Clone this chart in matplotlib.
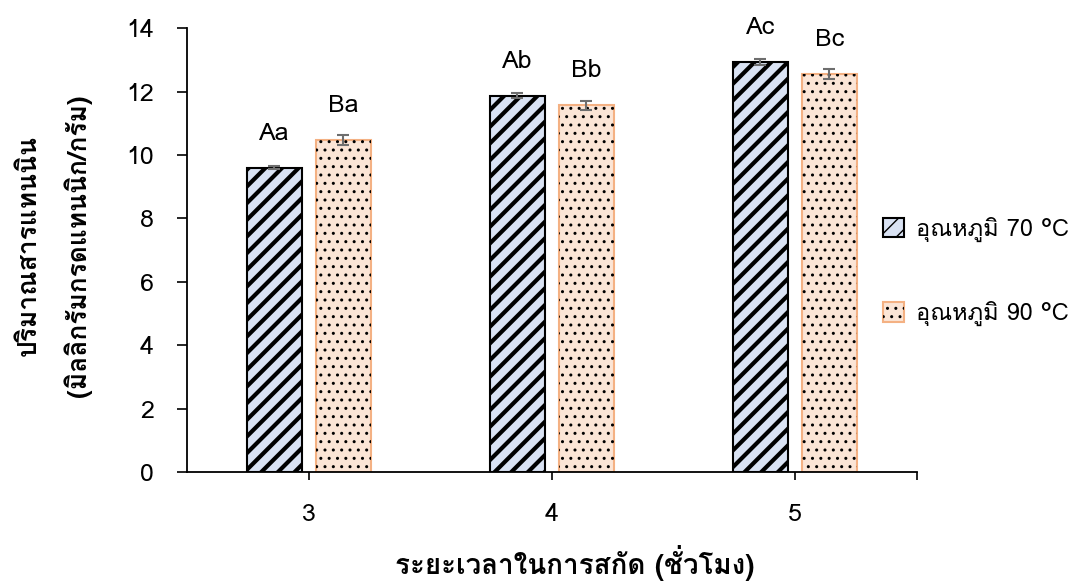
import matplotlib
matplotlib.use("Agg")
import matplotlib.pyplot as plt
from matplotlib import font_manager
from matplotlib.legend_handler import HandlerTuple
from matplotlib.ft2font import FT2Font
import numpy as np

# data
hours = ["3", "4", "5"]
temp_labels = ["อุณหภูมิ 70 °C", "อุณหภูมิ 90 °C"]
tannin_70 = [9.60, 11.87, 12.93]
tannin_90 = [10.47, 11.57, 12.55]
err_70 = [0.05, 0.08, 0.10]
err_90 = [0.15, 0.15, 0.15]
letters_70 = ["Aa", "Ab", "Ac"]
letters_90 = ["Ba", "Bb", "Bc"]


def find_thai_font():
    for f in font_manager.fontManager.ttflist:
        try:
            cmap = FT2Font(f.fname).get_charmap()
        except Exception:
            continue
        if 0x0E01 in cmap and 0x0E31 in cmap:
            return f.name
    return None


thai = find_thai_font()
fams = ([thai] if thai else []) + ["DejaVu Sans"]
plt.rcParams["font.family"] = fams

fig = plt.figure(figsize=(10.75, 5.83), dpi=100)
ax = fig.add_axes([0.174, 0.1904, 0.6786, 0.7611])

x = np.arange(len(hours))
w = 0.226
off = 0.142

# 70 C: light blue with thick black stripes
plt.rcParams["hatch.linewidth"] = 3.0
b70 = ax.bar(x - off, tannin_70, width=w, color="#D9E2F3", edgecolor="black",
             linewidth=1.5, hatch="//", zorder=2)
# 90 C: peach with black dots, orange edge
plt.rcParams["hatch.linewidth"] = 1.0
b90 = ax.bar(x + off, tannin_90, width=w, color="#FBE5D6", edgecolor="#F4B183",
             linewidth=1.5, zorder=2)
b90h = ax.bar(x + off, tannin_90, width=w, fill=False, edgecolor="black",
              linewidth=0, hatch="..", zorder=3)

ax.errorbar(x - off, tannin_70, yerr=err_70, fmt="none", ecolor="#6E6E6E",
            elinewidth=1.5, capsize=4.5, capthick=1.5, zorder=4)
ax.errorbar(x + off, tannin_90, yerr=err_90, fmt="none", ecolor="#6E6E6E",
            elinewidth=1.5, capsize=4.5, capthick=1.5, zorder=4)

for xi, v, t in zip(x - off, tannin_70, letters_70):
    ax.annotate(t, (xi, v), xytext=(0, 25), textcoords="offset points",
                ha="center", va="center", fontsize=18)
for xi, v, t in zip(x + off, tannin_90, letters_90):
    ax.annotate(t, (xi, v), xytext=(0, 25), textcoords="offset points",
                ha="center", va="center", fontsize=18)

ax.set_xlim(-0.5, 2.5)
ax.set_ylim(0, 14)
ax.set_yticks(np.arange(0, 15, 2))
ax.set_xticks(x)
ax.set_xticklabels(hours)
ax.set_xticks([2.5], minor=True)
ax.tick_params(axis="y", direction="out", length=7, width=1.2, pad=17, labelsize=18)
ax.tick_params(axis="x", which="both", direction="out", length=6, width=1.2, pad=16, labelsize=18)

for s in ["top", "right"]:
    ax.spines[s].set_visible(False)
for s in ["left", "bottom"]:
    ax.spines[s].set_linewidth(1.3)

ax.set_xlabel("ระยะเวลาในการสกัด (ชั่วโมง)", fontsize=20, fontweight="bold", va="center")
ax.xaxis.set_label_coords(0.531, -0.205)
ax.set_ylabel("ปริมาณสารแทนนิน\n(มิลลิกรัมกรดแทนนิก/กรัม)", fontsize=19,
              fontweight="bold", linespacing=2.0, va="center")
ax.yaxis.set_label_coords(-0.182, 0.51)

fig.legend([b70, (b90, b90h)], temp_labels, loc="center left",
           bbox_to_anchor=(0.8214, 0.5343), frameon=False, fontsize=17,
           handlelength=0.9, handleheight=0.9, handletextpad=0.5,
           labelspacing=2.5, borderpad=0, borderaxespad=0,
           handler_map={tuple: HandlerTuple(ndivide=1)})

fig.savefig("out.png", dpi=100)
